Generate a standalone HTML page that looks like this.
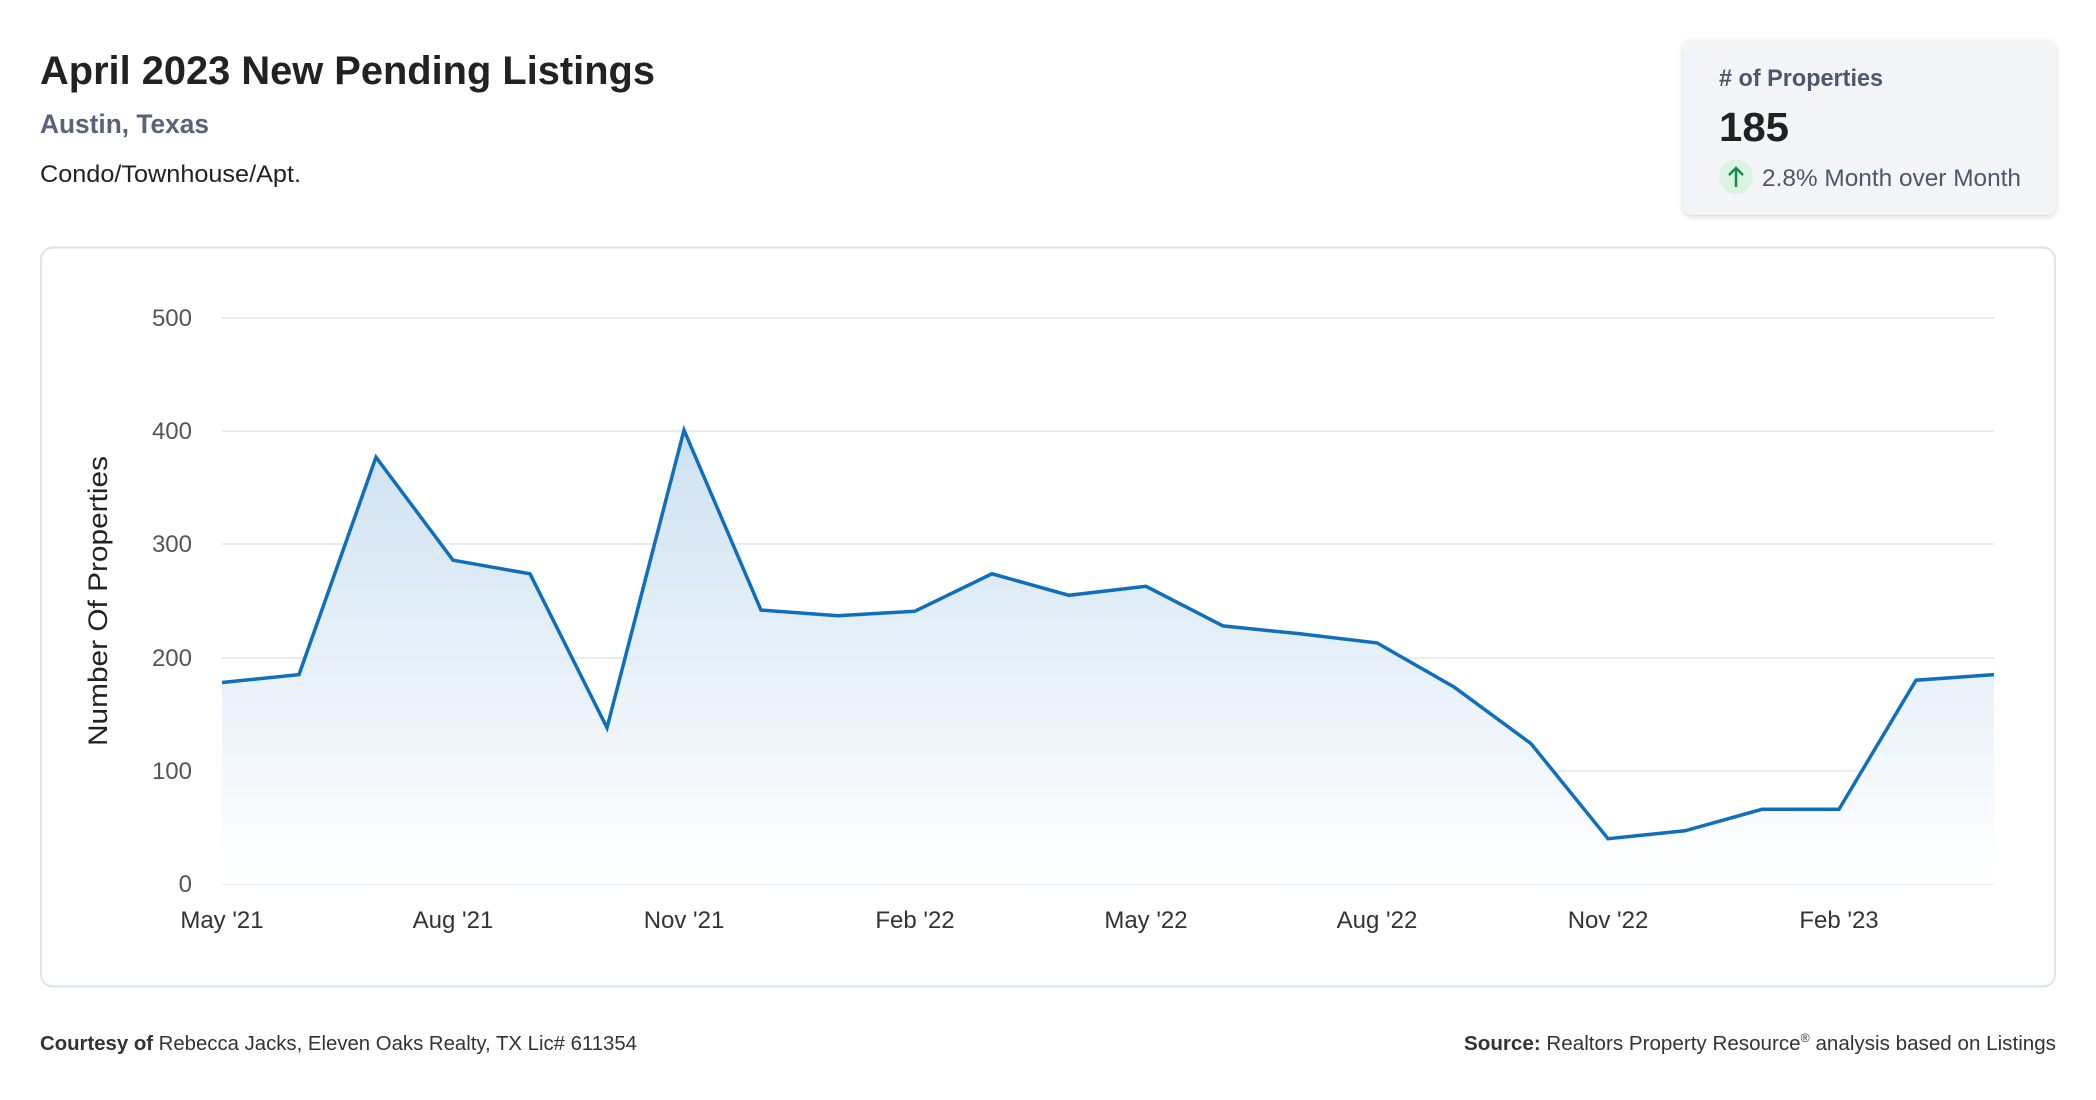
<!DOCTYPE html>
<html><head><meta charset="utf-8"><style>
html,body{margin:0;padding:0;background:#fff;width:2096px;height:1100px;overflow:hidden}
svg{display:block}
text{font-family:"Liberation Sans",sans-serif}
</style></head><body>
<svg width="2096" height="1100" viewBox="0 0 2096 1100" xmlns="http://www.w3.org/2000/svg">
<defs>
<linearGradient id="g" x1="0" y1="0" x2="0" y2="1">
<stop offset="0" stop-color="#c9def0" stop-opacity="0.9"/>
<stop offset="1" stop-color="#ffffff" stop-opacity="0.9"/>
</linearGradient>
<filter id="sh" x="-10%" y="-10%" width="120%" height="130%"><feDropShadow dx="0" dy="2" stdDeviation="3" flood-color="#000" flood-opacity="0.15"/></filter>
</defs>
<text x="40" y="84" font-size="40" font-weight="bold" fill="#222" textLength="615" lengthAdjust="spacingAndGlyphs">April 2023 New Pending Listings</text>
<text x="40" y="133" font-size="27" font-weight="bold" fill="#586379" textLength="169" lengthAdjust="spacingAndGlyphs">Austin, Texas</text>
<text x="40" y="182" font-size="24" fill="#222" textLength="261" lengthAdjust="spacingAndGlyphs">Condo/Townhouse/Apt.</text>

<rect x="1683" y="40" width="373" height="175" rx="9" fill="#f4f5f8" filter="url(#sh)"/>
<text x="1719" y="86" font-size="24" font-weight="bold" fill="#4d576a" textLength="164" lengthAdjust="spacingAndGlyphs"># of Properties</text>
<text x="1719" y="141" font-size="41" font-weight="bold" fill="#222" textLength="70" lengthAdjust="spacingAndGlyphs">185</text>
<circle cx="1736" cy="177" r="17" fill="#d9f5e2"/>
<path d="M1736 187 V168 M1729 175 L1736 168 L1743 175" stroke="#1c8a4a" stroke-width="2.5" fill="none"/>
<text x="1762" y="186" font-size="24" fill="#4d576a" textLength="259" lengthAdjust="spacingAndGlyphs">2.8% Month over Month</text>

<rect x="41" y="247.5" width="2014" height="739" rx="12" fill="#fff" stroke="#dde3ea" stroke-width="2"/>
<g stroke="#e2e6ea" stroke-width="1.5">
<line x1="222" y1="318" x2="1994" y2="318"/>
<line x1="222" y1="431" x2="1994" y2="431"/>
<line x1="222" y1="544" x2="1994" y2="544"/>
<line x1="222" y1="658" x2="1994" y2="658"/>
<line x1="222" y1="771" x2="1994" y2="771"/>
<line x1="222" y1="884" x2="1994" y2="884"/>
</g>
<g font-size="24" fill="#555" text-anchor="end">
<text x="192" y="326">500</text><text x="192" y="439">400</text><text x="192" y="552">300</text>
<text x="192" y="666">200</text><text x="192" y="779">100</text><text x="192" y="892">0</text>
</g>
<text transform="translate(107,601) rotate(-90)" font-size="27" fill="#222" text-anchor="middle" textLength="290" lengthAdjust="spacingAndGlyphs">Number Of Properties</text>
<path d="M222,682.5 L299,674.6 L376,457.2 L453,560.2 L530,573.8 L607,727.8 L684,430.1 L761,610.1 L838,615.7 L915,611.2 L992,573.8 L1069,595.3 L1146,586.3 L1223,625.9 L1300,633.8 L1377,642.9 L1454,687 L1531,743.6 L1608,838.7 L1685,830.8 L1762,809.3 L1839,809.3 L1916,680.2 L1994,674.6 L1994,884 L222,884 Z" fill="url(#g)"/>
<polyline points="222,682.5 299,674.6 376,457.2 453,560.2 530,573.8 607,727.8 684,430.1 761,610.1 838,615.7 915,611.2 992,573.8 1069,595.3 1146,586.3 1223,625.9 1300,633.8 1377,642.9 1454,687 1531,743.6 1608,838.7 1685,830.8 1762,809.3 1839,809.3 1916,680.2 1994,674.6" fill="none" stroke="#0f6fbd" stroke-width="3.5" stroke-linejoin="miter"/>
<g font-size="24" fill="#333" text-anchor="middle">
<text x="222" y="928">May '21</text><text x="453" y="928">Aug '21</text><text x="684" y="928">Nov '21</text>
<text x="915" y="928">Feb '22</text><text x="1146" y="928">May '22</text><text x="1377" y="928">Aug '22</text>
<text x="1608" y="928">Nov '22</text><text x="1839" y="928">Feb '23</text>
</g>
<text x="40" y="1050" font-size="20" fill="#333" textLength="597" lengthAdjust="spacingAndGlyphs"><tspan font-weight="bold">Courtesy of</tspan> Rebecca Jacks, Eleven Oaks Realty, TX Lic# 611354</text>
<text x="1464" y="1050" font-size="20" fill="#333" textLength="592" lengthAdjust="spacingAndGlyphs"><tspan font-weight="bold">Source:</tspan> Realtors Property Resource<tspan font-size="12" dy="-8">®</tspan><tspan dy="8"> analysis based on Listings</tspan></text>
</svg>
</body></html>
